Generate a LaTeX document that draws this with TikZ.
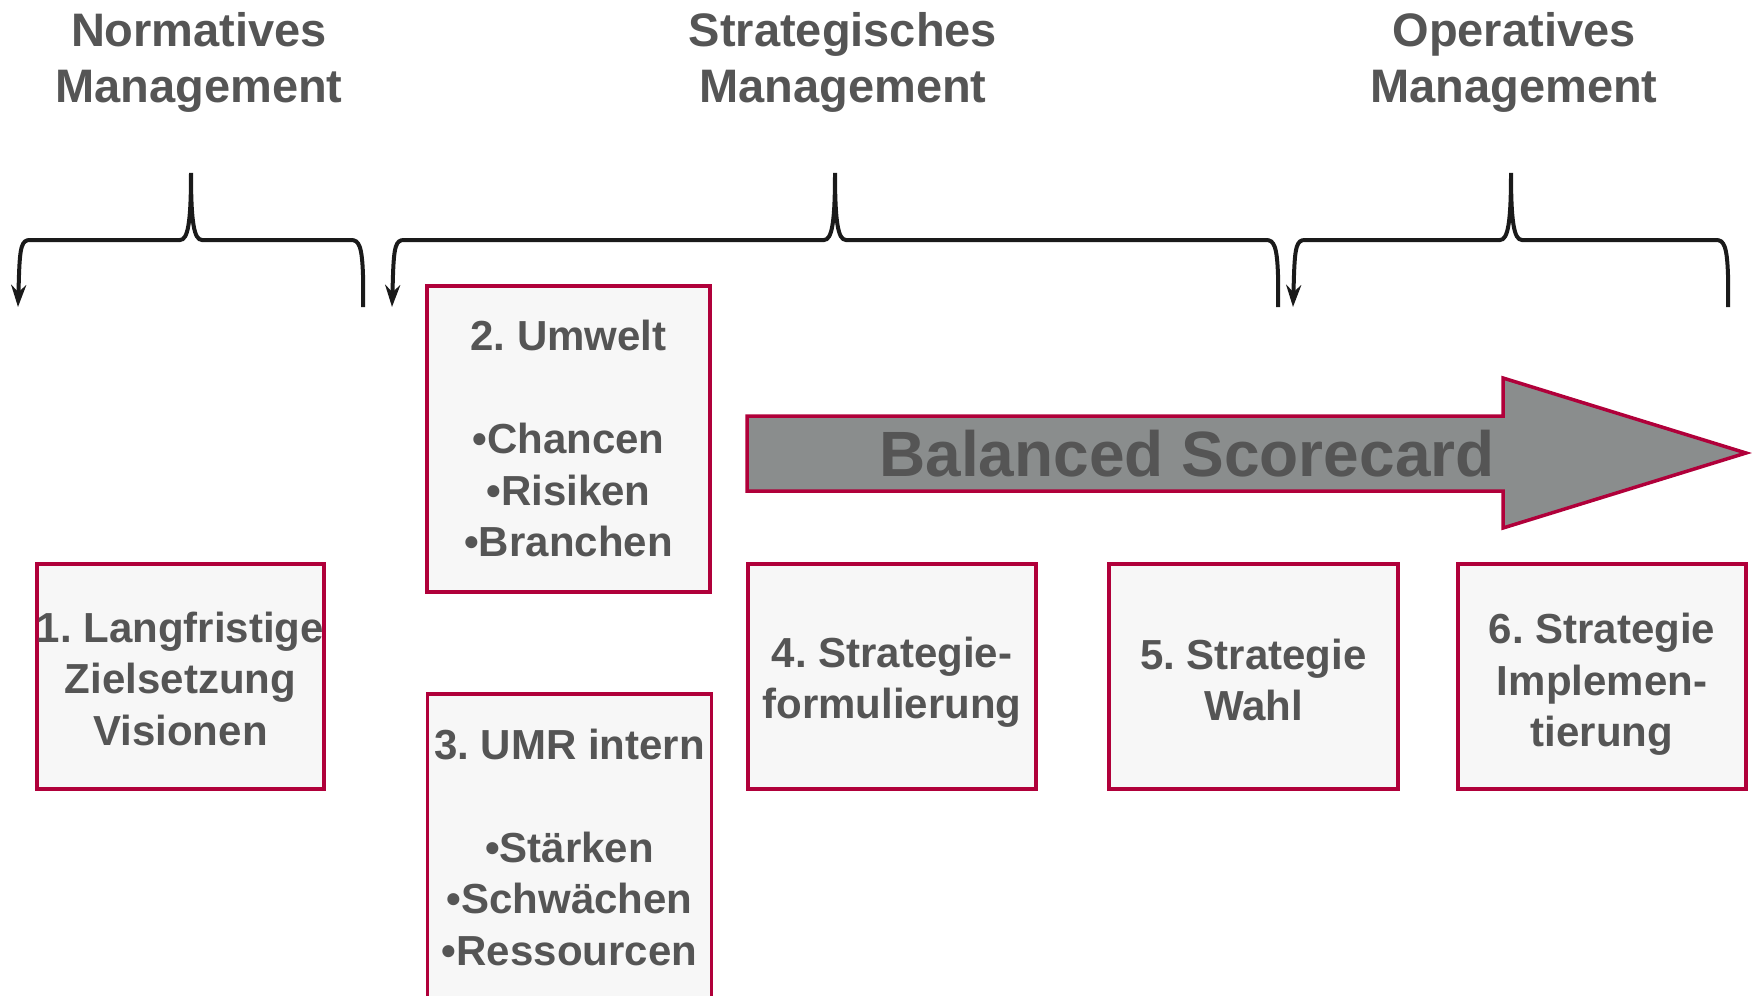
\documentclass[tikz,border=0pt]{standalone}
\usepackage{fontspec}
\setmainfont{Liberation Sans}
\frenchspacing
\usetikzlibrary{arrows.meta}
\definecolor{frame}{HTML}{B0003A}
\definecolor{ink}{HTML}{555555}
\definecolor{boxfill}{HTML}{F7F7F7}
\definecolor{arrowfill}{HTML}{8A8D8D}
\definecolor{bracecol}{HTML}{1A1A1A}

% curly brace with an arrow at its left end: left x, spike x, right x
\newcommand\curlybrace[3]{%
  \draw[bracestyle] (#1,307) -- ({#1+1},275)
    .. controls ({#1+2},246) and ({#1+4},240) .. ({#1+12},240)
    -- ({#2-11},240)
    .. controls ({#2-3},240) and (#2,222) .. (#2,173)
    .. controls (#2,222) and ({#2+3},240) .. ({#2+11},240)
    -- ({#3-12},240)
    .. controls ({#3-4},240) and ({#3-1},246) .. (#3,275)
    -- (#3,307);}

\begin{document}
\begin{tikzpicture}[x=1pt,y=-1pt,
  title/.style={align=center, inner sep=0pt, text=ink,
    font=\fontsize{47}{56}\selectfont\bfseries},
  stepbox/.style={draw=frame, line width=3.5pt, fill=boxfill, inner sep=0pt},
  steptext/.style={align=center, inner sep=0pt, text=ink,
    font=\fontsize{42}{51.5}\selectfont\bfseries},
  bracestyle/.style={draw=bracecol, line width=4pt,
    {Stealth[length=22pt,width=15pt]}-},
  bigarrow/.style={draw=frame, line width=3.5pt, fill=arrowfill, line join=miter}]

\useasboundingbox[fill=white] (0,0) rectangle (1757,996);

% management levels
\node[title] (t1) at (199,62) {Normatives\\Management};
\node[title] (t2) at (843,62) {Strategisches\\Management};
\node[title] (t3) at (1514,62) {Operatives\\Management};

% braces spanning each level
\curlybrace{18}{191}{363}
\curlybrace{392}{835}{1278}
\curlybrace{1293}{1511}{1728}

% Balanced Scorecard arrow
\draw[bigarrow] (747,416) -- (1503,416) -- (1503,378) -- (1746,453)
  -- (1503,528) -- (1503,491) -- (747,491) -- cycle;
\node[text=ink, inner sep=0pt, font=\fontsize{64}{70}\selectfont\bfseries]
  (bsc) at (1187,454) {Balanced Scorecard};

% process steps: frames
\node[stepbox, minimum width=287pt, minimum height=225pt] (b1) at (180.5,676.5) {};
\node[stepbox, minimum width=283pt, minimum height=306pt] (b2) at (568.5,439) {};
\node[stepbox, minimum width=284pt, minimum height=306pt] (b3) at (569.5,847) {};
\node[stepbox, minimum width=288pt, minimum height=225pt] (b4) at (892,676.5) {};
\node[stepbox, minimum width=289pt, minimum height=225pt] (b5) at (1253.5,676.5) {};
\node[stepbox, minimum width=288pt, minimum height=225pt] (b6) at (1602,676.5) {};

% process steps: labels
\node[steptext] (l1) at ([yshift=-2.2pt]b1.center) {1. Langfristige\\Zielsetzung\\Visionen};
\node[steptext] (l2) at ([yshift=0.5pt]b2.center) {2. Umwelt\\[51.5pt]•Chancen\\•Risiken\\•Branchen};
\node[steptext] (l3) at ([yshift=0pt]b3.center) {3. UMR intern\\[51.5pt]•Stärken\\•Schwächen\\•Ressourcen};
\node[steptext] (l4) at ([yshift=-5.6pt]b4.center) {4. Strategie-\\formulierung};
\node[steptext] (l5) at ([yshift=-3.4pt]b5.center) {5. Strategie\\Wahl};
\node[steptext] (l6) at ([yshift=-7.8pt]b6.center) {6. Strategie\\Implemen-\\tierung};
\end{tikzpicture}
\end{document}
